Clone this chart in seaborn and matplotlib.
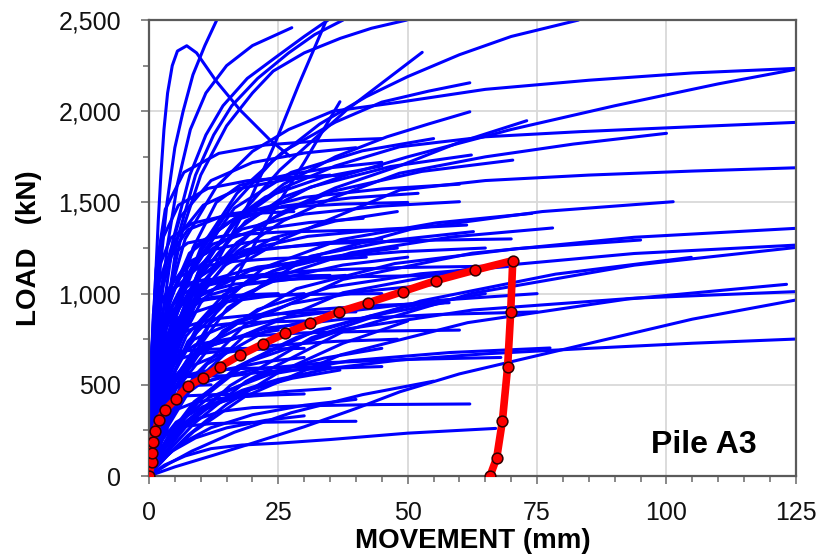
import matplotlib
matplotlib.use("Agg")
import matplotlib.pyplot as plt
from matplotlib.ticker import MultipleLocator, FuncFormatter
import seaborn as sns
import pandas as pd

# Pile A3 measured load-movement (loading then unloading)
red_movement = [0, 0.5, 0.5, 0.7, 1.2, 1.9, 3.1, 5.2, 7.6, 10.4, 13.7, 17.6, 22.0, 26.3,
                31.2, 36.8, 42.4, 49.0, 55.4, 63.0, 70.3, 69.9, 69.3, 68.3, 67.2, 65.9]
red_load = [0, 78, 128, 188, 248, 307, 362, 422, 495, 535, 599, 663, 724, 782,
            837, 901, 950, 1011, 1071, 1129, 1181, 901, 596, 303, 100, 0]

# predicted curves, steep group (movement list, load list)
steep_curves = [
    ([0, 0.3, 0.8, 1.3, 1.8, 2.3, 2.9, 3.6, 4.5, 5.5, 7.3, 9.2, 13, 17.6, 23.4, 27.2],
     [0, 350, 750, 1100, 1400, 1650, 1900, 2100, 2250, 2330, 2359, 2320, 2165, 2007, 1842, 1754]),
    ([0, 0.5, 1.2, 2.2, 3.5, 5, 6.6, 8.5, 10.8, 13.1],
     [0, 350, 750, 1150, 1500, 1800, 2000, 2200, 2360, 2500]),
    ([0, 0.8, 2, 3.5, 5.5, 8, 11, 15, 20, 27.6],
     [0, 400, 850, 1250, 1600, 1900, 2100, 2250, 2360, 2458]),
    ([0, 1.5, 3.5, 6.5, 10, 15, 20, 24, 30, 37, 43, 49.8],
     [0, 500, 950, 1350, 1650, 1920, 2100, 2220, 2320, 2400, 2455, 2500]),
    ([0, 1, 2.5, 4.7, 7.9, 11, 14.3, 19, 24.7, 30, 34.6],
     [0, 450, 850, 1300, 1650, 1870, 2030, 2180, 2300, 2410, 2500]),
    ([0, 1.3, 3.2, 5.5, 9, 12.5, 16, 21, 27, 32, 37.5],
     [0, 450, 850, 1300, 1650, 1870, 2030, 2180, 2320, 2420, 2500]),
    ([0, 2, 5, 9, 14, 19, 24, 29, 34.3],
     [0, 350, 650, 950, 1220, 1480, 1800, 2150, 2500]),
    ([0, 3, 7, 12, 18, 24, 30, 36.9],
     [0, 250, 550, 850, 1150, 1450, 1720, 2052]),
    ([0, 2, 5, 10, 16, 25.3, 38.2, 52.8],
     [0, 450, 800, 1120, 1380, 1678, 2007, 2323]),
]

# predicted curves, upper group
upper_curves = [
    ([0, 2, 5, 10, 16, 24, 33, 42, 50, 60, 70, 83],
     [0, 500, 880, 1230, 1480, 1730, 1930, 2080, 2190, 2310, 2410, 2500]),
    ([0, 1.5, 4, 7, 13, 20, 27, 35.5, 48.5, 65, 85, 105, 125],
     [0, 500, 1000, 1300, 1585, 1780, 1900, 2000, 2050, 2120, 2170, 2210, 2235]),
    ([0, 2, 5, 10, 17, 26, 38, 50, 70, 90, 110, 125],
     [0, 400, 750, 1100, 1350, 1530, 1650, 1750, 1900, 2030, 2150, 2230]),
    ([0, 2, 5, 10, 17, 26, 36, 48.4, 65, 83.3, 105, 125],
     [0, 450, 800, 1150, 1400, 1580, 1700, 1805, 1860, 1888, 1915, 1939]),
    ([0, 2, 5, 10, 17, 26, 36, 48.4, 65, 82, 100],
     [0, 400, 700, 1000, 1230, 1400, 1530, 1660, 1750, 1820, 1879]),
    ([0, 2, 5, 10, 17, 26, 36, 48.4, 60, 73],
     [0, 420, 740, 1050, 1280, 1450, 1580, 1700, 1830, 1948]),
    ([0, 2, 5, 10, 17, 26, 36, 46, 54, 62],
     [0, 450, 800, 1150, 1400, 1600, 1750, 1860, 1930, 1997]),
    ([0, 2, 5, 10, 17, 26, 36, 45, 54, 62],
     [0, 500, 880, 1250, 1550, 1780, 1940, 2050, 2110, 2156]),
    ([0, 1, 2.5, 5, 8.5, 13, 17.6, 26.6, 35, 45],
     [0, 250, 550, 900, 1250, 1500, 1595, 1650, 1690, 1720]),
    ([0, 2, 5, 10, 17, 26, 36, 48.5, 65, 85, 105, 125],
     [0, 380, 680, 950, 1150, 1300, 1420, 1568, 1620, 1650, 1672, 1690]),
    ([0, .45, 1.35, 3.15, 6.75, 13.5, 22.5, 33.75, 45],
     [0, 141, 371, 687, 1044, 1350, 1530, 1639, 1700]),
    ([0, .55, 1.65, 3.85, 8.25, 16.5, 27.5, 41.25, 55],
     [0, 154, 403, 747, 1136, 1469, 1665, 1783, 1850]),
    ([0, .35, 1.05, 2.45, 5.25, 10.5, 17.5, 26.25, 35],
     [0, 289, 650, 1011, 1300, 1485, 1576, 1624, 1650]),
    ([0, .62, 1.87, 4.36, 9.35, 18.7, 31.2, 46.7, 62.3],
     [0, 146, 384, 711, 1081, 1397, 1584, 1697, 1760]),
    ([0, .7, 2.11, 4.92, 10.5, 21.1, 35.2, 52.7, 70.3],
     [0, 144, 378, 700, 1063, 1375, 1559, 1670, 1732]),
    ([0, .52, 1.56, 3.64, 7.8, 15.6, 26, 39, 52],
     [0, 271, 611, 950, 1221, 1395, 1480, 1525, 1550]),
    ([0, .4, 1.2, 2.8, 6, 12, 20, 30, 40],
     [0, 315, 709, 1103, 1418, 1620, 1719, 1771, 1800]),
    ([0, .38, 1.14, 2.66, 5.7, 11.4, 19, 28.5, 38],
     [0, 561, 1007, 1304, 1485, 1577, 1619, 1640, 1650]),
    ([0, .6, 1.8, 4.2, 9, 18, 30, 45, 60],
     [0, 280, 630, 981, 1261, 1440, 1528, 1574, 1600]),
    ([0, .45, 1.35, 3.15, 6.75, 13.5, 22.5, 33.75, 45],
     [0, 629, 1129, 1462, 1665, 1769, 1815, 1839, 1850]),
]

# predicted curves, middle group
middle_curves = [
    ([0, .45, 1.35, 3.15, 6.75, 13.5, 22.5, 33.75, 45], [0, 228, 512, 797, 1024, 1170, 1242, 1279, 1300]),
    ([0, .5, 1.5, 3.5, 7.5, 15, 25, 37.5, 50], [0, 100, 262, 485, 737, 953, 1080, 1157, 1200]),
    ([0, .38, 1.14, 2.66, 5.7, 11.4, 19, 28.5, 38], [0, 193, 433, 674, 867, 990, 1051, 1082, 1100]),
    ([0, .55, 1.65, 3.85, 8.25, 16.5, 27.5, 41.25, 55], [0, 87, 229, 424, 645, 834, 945, 1012, 1050]),
    ([0, .41, 1.24, 2.9, 6.2, 12.4, 20.7, 31, 41.4], [0, 247, 557, 866, 1113, 1272, 1349, 1390, 1413]),
    ([0, .63, 1.88, 4.39, 9.4, 18.8, 31.4, 47, 62.7], [0, 111, 292, 541, 823, 1064, 1206, 1292, 1340]),
    ([0, .35, 1.05, 2.45, 5.25, 10.5, 17.5, 26.25, 35], [0, 75, 196, 364, 553, 715, 810, 868, 900]),
    ([0, .65, 1.95, 4.55, 9.75, 19.5, 32.5, 48.75, 65], [0, 39, 110, 231, 414, 632, 800, 923, 1000]),
    ([0, .48, 1.44, 3.36, 7.2, 14.4, 24, 36, 48], [0, 104, 273, 505, 768, 993, 1125, 1205, 1250]),
    ([0, .3, .9, 2.1, 4.5, 9, 15, 22.5, 30], [0, 175, 394, 613, 788, 900, 955, 984, 1000]),
    ([0, .7, 2.1, 4.9, 10.5, 21, 35, 52.5, 70], [0, 95, 251, 465, 706, 913, 1035, 1109, 1150]),
    ([0, .57, 1.71, 3.99, 8.55, 17.1, 28.5, 42.75, 57], [0, 37, 105, 219, 393, 600, 760, 877, 950]),
    ([0, .28, .84, 1.96, 4.2, 8.4, 14, 21, 28], [0, 493, 885, 1146, 1305, 1386, 1422, 1441, 1450]),
    ([0, .33, .99, 2.31, 4.95, 9.9, 16.5, 24.75, 33], [0, 408, 732, 948, 1080, 1147, 1177, 1193, 1200]),
    ([0, .25, .75, 1.75, 3.75, 7.5, 12.5, 18.75, 25], [0, 66, 174, 323, 491, 635, 720, 771, 800]),
    ([0, .3, .9, 2.1, 4.5, 9, 15, 22.5, 30], [0, 54, 142, 263, 399, 516, 585, 627, 650]),
    ([0, .78, 2.34, 5.46, 11.7, 23.4, 39, 58.5, 78], [0, 113, 296, 549, 835, 1080, 1224, 1311, 1360]),
    ([0, .95, 2.85, 6.65, 14.25, 28.5, 47.5, 71.25, 95], [0, 107, 282, 523, 795, 1027, 1165, 1247, 1294]),
    ([0, 1.23, 3.7, 8.62, 18.5, 37, 61.6, 92.4, 123.2], [0, 41, 116, 243, 435, 664, 841, 970, 1051]),
    ([0, 1.25, 3.75, 8.75, 18.75, 37.5, 62.5, 93.75, 125], [0, 84, 220, 408, 621, 803, 910, 975, 1011]),
    ([0, 1.25, 3.75, 8.75, 18.75, 37.5, 62.5, 93.75, 125], [0, 105, 276, 511, 777, 1005, 1139, 1220, 1266]),
    ([0, 1.25, 3.75, 8.75, 18.75, 37.5, 62.5, 93.75, 125], [0, 49, 138, 289, 519, 792, 1002, 1156, 1253]),
    ([0, 1.05, 3.14, 7.34, 15.7, 31.4, 52.4, 78.6, 104.8], [0, 47, 132, 277, 496, 758, 959, 1107, 1199]),
    ([0, 1.25, 3.75, 8.75, 18.75, 37.5, 62.5, 93.75, 125], [0, 113, 296, 549, 834, 1078, 1222, 1309, 1358]),
    ([0, 1.01, 3.04, 7.09, 15.2, 30.4, 50.7, 76, 101.3], [0, 125, 328, 608, 923, 1194, 1354, 1450, 1504]),
    ([0, .74, 2.22, 5.18, 11.1, 22.2, 37, 55.5, 74], [0, 120, 314, 582, 884, 1143, 1296, 1388, 1440]),
    ([0, .6, 1.8, 4.2, 9, 18, 30, 45, 60], [0, 263, 593, 922, 1185, 1354, 1436, 1480, 1504]),
    ([0, .61, 1.84, 4.3, 9.2, 18.4, 30.7, 46, 61.4], [0, 241, 542, 843, 1084, 1238, 1314, 1354, 1376]),
    ([0, .75, 2.25, 5.25, 11.25, 22.5, 37.5, 56.25, 75], [0, 83, 218, 404, 614, 794, 900, 964, 1000]),
    ([0, .48, 1.44, 3.36, 7.2, 14.4, 24, 36, 48], [0, 120, 316, 586, 890, 1151, 1305, 1398, 1450]),
    ([0, .25, .75, 1.75, 3.75, 7.5, 12.5, 18.75, 25], [0, 228, 512, 797, 1024, 1170, 1242, 1279, 1300]),
    ([0, .2, .6, 1.4, 3, 6, 10, 15, 20], [0, 193, 433, 674, 867, 990, 1051, 1082, 1100]),
    ([0, .4, 1.2, 2.8, 6, 12, 20, 30, 40], [0, 306, 549, 711, 810, 860, 883, 895, 900]),
    ([0, .55, 1.65, 3.85, 8.25, 16.5, 27.5, 41.25, 55], [0, 374, 671, 869, 990, 1052, 1079, 1093, 1100]),
    ([0, .3, .9, 2.1, 4.5, 9, 15, 22.5, 30], [0, 238, 427, 553, 630, 669, 687, 696, 700]),
    ([0, .65, 1.95, 4.55, 9.75, 19.5, 32.5, 48.75, 65], [0, 219, 493, 766, 985, 1125, 1194, 1230, 1250]),
    ([0, .45, 1.35, 3.15, 6.75, 13.5, 22.5, 33.75, 45], [0, 505, 758, 884, 947, 977, 990, 997, 1000]),
    ([0, .5, 1.5, 3.5, 7.5, 15, 25, 37.5, 50], [0, 510, 915, 1185, 1350, 1434, 1472, 1491, 1500]),
    ([0, .7, 2.1, 4.9, 10.5, 21, 35, 52.5, 70], [0, 442, 793, 1027, 1170, 1243, 1275, 1292, 1300]),
    ([0, .25, .75, 1.75, 3.75, 7.5, 12.5, 18.75, 25], [0, 340, 610, 790, 900, 956, 981, 994, 1000]),
    ([0, .42, 1.26, 2.94, 6.3, 12.6, 21, 31.5, 42], [0, 210, 473, 736, 946, 1080, 1146, 1181, 1200]),
    ([0, .58, 1.74, 4.06, 8.7, 17.4, 29, 43.5, 58], [0, 166, 374, 582, 749, 855, 907, 935, 950]),
    ([0, .65, 1.95, 4.55, 9.75, 19.5, 32.5, 48.75, 65], [0, 391, 702, 909, 1035, 1099, 1128, 1143, 1150]),
    ([0, .75, 2.25, 5.25, 11.25, 22.5, 37.5, 56.25, 75], [0, 158, 355, 552, 709, 810, 860, 886, 900]),
    ([0, .2, .6, 1.4, 3, 6, 10, 15, 20], [0, 354, 531, 619, 663, 684, 693, 698, 700]),
    ([0, .35, 1.05, 2.45, 5.25, 10.5, 17.5, 26.25, 35], [0, 556, 834, 972, 1042, 1075, 1089, 1096, 1100]),
    ([0, .5, 1.5, 3.5, 7.5, 15, 25, 37.5, 50], [0, 682, 1023, 1193, 1278, 1319, 1337, 1346, 1350]),
    ([0, .3, .9, 2.1, 4.5, 9, 15, 22.5, 30], [0, 289, 519, 672, 765, 813, 834, 845, 850]),
]

# predicted curves, lower group
lower_curves = [
    ([0, 3, 7, 12, 18, 25, 35, 50, 67], [0, 60, 110, 150, 170, 180, 200, 235, 261]),
    ([0, 2, 5, 9, 14, 20, 30, 45, 62], [0, 120, 230, 310, 355, 375, 385, 392, 395]),
    ([0, 5, 12, 20, 30, 40, 48.5, 60, 75, 90, 105, 125], [0, 50, 110, 180, 270, 370, 462, 560, 660, 760, 860, 965]),
    ([0, 3, 7, 12, 18, 25, 35, 48.5, 65, 85, 105, 125], [0, 150, 280, 390, 470, 530, 590, 636, 670, 700, 728, 751]),
    ([0, .78, 2.33, 5.43, 11.6, 23.3, 38.8, 58.1, 77.5], [0, 58, 153, 284, 431, 557, 632, 677, 702]),
    ([0, .37, 1.11, 2.58, 5.54, 11.1, 18.5, 27.7, 36.9], [0, 23, 64, 134, 241, 367, 465, 536, 581]),
    ([0, .45, 1.35, 3.15, 6.75, 13.5, 22.5, 33.75, 45], [0, 27, 77, 162, 290, 442, 560, 646, 700]),
    ([0, .5, 1.5, 3.5, 7.5, 15, 25, 37.5, 50], [0, 17, 49, 111, 222, 393, 567, 728, 850]),
    ([0, .55, 1.65, 3.85, 8.25, 16.5, 27.5, 41.25, 55], [0, 10, 30, 68, 136, 240, 347, 446, 520]),
    ([0, .4, 1.2, 2.8, 6, 12, 20, 30, 40], [0, 16, 46, 97, 174, 265, 336, 388, 420]),
    ([0, .3, .9, 2.1, 4.5, 9, 15, 22.5, 30], [0, 13, 36, 76, 137, 209, 264, 305, 330]),
    ([0, .35, 1.05, 2.45, 5.25, 10.5, 17.5, 26.25, 35], [0, 40, 105, 194, 295, 381, 432, 463, 480]),
    ([0, .35, 1.05, 2.45, 5.25, 10.5, 17.5, 26.25, 35], [0, 204, 366, 474, 540, 574, 589, 596, 600]),
    ([0, .6, 1.8, 4.2, 9, 18, 30, 45, 60], [0, 272, 488, 632, 720, 765, 785, 795, 800]),
    ([0, .48, 1.44, 3.36, 7.2, 14.4, 24, 36, 48], [0, 131, 296, 460, 591, 675, 716, 738, 750]),
    ([0, .3, .9, 2.1, 4.5, 9, 15, 22.5, 30], [0, 79, 177, 276, 355, 405, 430, 443, 450]),
    ([0, .68, 2.04, 4.76, 10.2, 20.4, 34, 51, 68], [0, 114, 256, 398, 512, 585, 621, 640, 650]),
    ([0, .25, .75, 1.75, 3.75, 7.5, 12.5, 18.75, 25], [0, 227, 341, 398, 426, 440, 446, 449, 450]),
    ([0, .15, .45, 1.05, 2.25, 4.5, 7.5, 11.25, 15], [0, 278, 417, 486, 521, 537, 545, 548, 550]),
    ([0, .4, 1.2, 2.8, 6, 12, 20, 30, 40], [0, 102, 183, 237, 270, 287, 294, 298, 300]),
    ([0, .45, 1.35, 3.15, 6.75, 13.5, 22.5, 33.75, 45], [0, 105, 236, 368, 473, 540, 573, 590, 600]),
    ([0, .12, .36, .84, 1.8, 3.6, 6, 9, 12], [0, 170, 305, 395, 450, 478, 491, 497, 500]),
]

rows = []
cid = 0
for group in (steep_curves, upper_curves, middle_curves, lower_curves):
    for xs, ls in group:
        for i, (x, l) in enumerate(zip(xs, ls)):
            rows.append((cid, i, x, l))
        cid += 1
blue_df = pd.DataFrame(rows, columns=["curve", "step", "movement", "load"])
red_df = pd.DataFrame({"movement": red_movement, "load": red_load,
                       "step": range(len(red_load))})

sns.set_theme(style="white")
plt.rcParams["font.family"] = ["Liberation Sans", "DejaVu Sans"]

fig = plt.figure(figsize=(8.23, 5.57), dpi=100)
ax = fig.add_axes([0.181, 0.1454, 0.786, 0.8186])

sns.lineplot(data=blue_df, x="movement", y="load", units="curve", estimator=None,
             sort=False, color="#0000ff", lw=2.2, ax=ax, zorder=2)
sns.lineplot(data=red_df, x="movement", y="load", estimator=None, sort=False,
             color="#ff0000", lw=5.5, ax=ax, zorder=3)
sns.scatterplot(data=red_df, x="movement", y="load", color="#ff0000", s=60,
                edgecolor="#300000", linewidth=1.1, ax=ax, zorder=4)

ax.set_xlim(0, 125)
ax.set_ylim(0, 2500)
ax.xaxis.set_major_locator(MultipleLocator(25))
ax.xaxis.set_minor_locator(MultipleLocator(5))
ax.yaxis.set_major_locator(MultipleLocator(500))
ax.yaxis.set_minor_locator(MultipleLocator(250))
ax.yaxis.set_major_formatter(FuncFormatter(lambda v, p: f"{v:,.0f}"))
ax.grid(True, which="major", color="#d9d9d9", lw=1.3, zorder=0)
ax.set_axisbelow(True)
ax.tick_params(which="both", direction="out", colors="#7f7f7f", labelcolor="#111111",
               labelsize=18, left=True, bottom=True)
ax.tick_params(which="major", length=6, width=1.3)
ax.tick_params(which="minor", length=4, width=1.3)
ax.tick_params(axis="y", which="major", pad=14)
ax.tick_params(axis="x", which="major", pad=12)
for side in ax.spines:
    ax.spines[side].set_color("#5a5a5a")
    ax.spines[side].set_linewidth(1.6)

ax.set_xlabel("MOVEMENT (mm)", fontsize=20, fontweight="bold", labelpad=2, color="black")
ax.set_ylabel("LOAD   (kN)", fontsize=20, fontweight="bold", labelpad=12, color="black")
ax.text(0.94, 0.035, "Pile A3", transform=ax.transAxes, ha="right", va="bottom",
        fontsize=23, fontweight="bold", color="black")

fig.savefig("out.png", dpi=100)
